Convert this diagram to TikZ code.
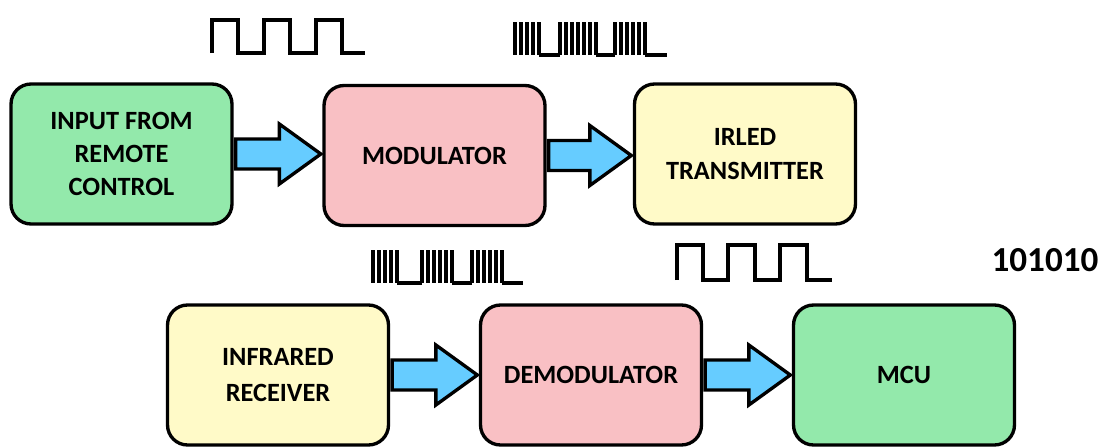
\documentclass[tikz,border=0pt]{standalone}
\usepackage{fontspec}
\setmainfont{Carlito}
\usepackage{xcolor}
\usepackage{tikz}
\usetikzlibrary{calc}
\usetikzlibrary{positioning}

\definecolor{blockgreen}{HTML}{93E9AB}
\definecolor{blockpink}{HTML}{F9C0C4}
\definecolor{blockyellow}{HTML}{FFFAC8}
\definecolor{arrowblue}{HTML}{66CCFF}

\tikzset{
	block/.style={draw=black,line width=1.9pt,rounded corners=0.4cm,
		minimum width=4.42cm,minimum height=2.80cm,align=center,
		font=\fontsize{15}{19}\selectfont\bfseries},
	fatarrow/.style={draw=black,fill=arrowblue,line width=1.9pt,miter limit=10},
	wave/.style={black,line width=2.2pt},
	burst/.style={black,line width=2.4pt}
}

% block arrow from the east side of #1 to the west side of #2
\newcommand{\blockarrow}[2]{%
	\draw[fatarrow] let \p1=(#1.east), \p2=(#2.west) in
		(\x1+0.04cm,\y1+0.3cm) -- (\x2-0.86cm,\y1+0.3cm) -- (\x2-0.86cm,\y1+0.6cm)
		-- (\x2-0.03cm,\y1) -- (\x2-0.86cm,\y1-0.6cm) -- (\x2-0.86cm,\y1-0.3cm)
		-- (\x1+0.04cm,\y1-0.3cm) -- cycle;}

\begin{document}
\begin{tikzpicture}[x=0.02cm,y=-0.02cm]
	\useasboundingbox (0,0) rectangle (1103,447);

	% transmitter chain
	\node[block,fill=blockgreen] (input) at (121.5,154) {INPUT FROM\\REMOTE\\CONTROL};
	\node[block,fill=blockpink] (modulator) at (434.5,155.5) {MODULATOR};
	\node[block,fill=blockyellow] (irled) at (745,154) {IRLED\\TRANSMITTER};

	% receiver chain
	\node[block,fill=blockyellow] (receiver) at (278,375) {INFRARED\\[2pt]RECEIVER};
	\node[block,fill=blockpink] (demodulator) at (591,375) {DEMODULATOR};
	\node[block,fill=blockgreen] (mcu) at (904,375) {MCU};

	\node[font=\fontsize{20}{22}\selectfont\bfseries] (bits) at (1045,260) {101010};

	\blockarrow{input}{modulator}
	\blockarrow{modulator}{irled}
	\blockarrow{receiver}{demodulator}
	\blockarrow{demodulator}{mcu}

	% baseband signals
	\draw[wave] (212,53) |- (238,20) |- (264,53) |- (290,20) |- (316,53) |- (342,20) |- (365,53);
	\draw[wave] (677,280) |- (703,245) |- (728,280) |- (755,245) |- (780,280) |- (807,245) |- (832,280);

	% modulated signals
	\foreach \s/\n in {515/5,560/7,615/6}
		\foreach \i in {1,...,\n}
			\draw[burst] ({\s+6*(\i-1)},22) -- ({\s+6*(\i-1)},55);
	\draw[wave] (539,55) -- (560,55) (596,55) -- (615,55) (645,55) -- (667,55);

	\foreach \s/\n in {373/5,422/6,472/6}
		\foreach \i in {1,...,\n}
			\draw[burst] ({\s+6*(\i-1)},250) -- ({\s+6*(\i-1)},283);
	\draw[wave] (397,283) -- (422,283) (452,283) -- (472,283) (502,283) -- (523,283);
\end{tikzpicture}
\end{document}
